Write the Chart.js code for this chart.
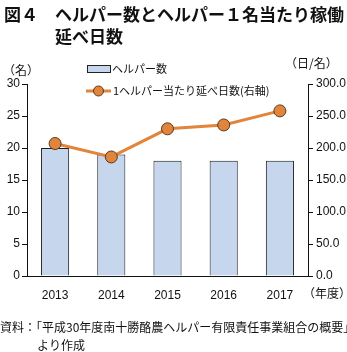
<!DOCTYPE html>
<html>
<head>
<meta charset="utf-8">
<script src="https://cdn.jsdelivr.net/npm/chart.js@4"></script>
<style>
  html, body { margin: 0; padding: 0; background: #fff; }
  #wrap { width: 347px; height: 352px; }
</style>
</head>
<body>
<div id="wrap"><canvas id="c" width="347" height="352"></canvas></div>
<script>
const years = ['2013', '2014', '2015', '2016', '2017'];
const helpers = [20, 19, 18, 18, 18];
const daysPerHelper = [207, 186, 230, 236, 258];
const leftTicks = [0, 5, 10, 15, 20, 25, 30];
const rightTicks = [0, 50, 100, 150, 200, 250, 300];

const JP = '"Noto Sans CJK JP", sans-serif';
const NUM = '"Liberation Sans", Arial, "Noto Sans CJK JP", sans-serif';
const barFill = '#c6d6ec';
const lineCol = '#e1843c';

// texts and legend drawn around the plot
const extras = {
    id: 'extras',
    afterDraw(chart) {
        const c = chart.ctx;
        c.save();
        c.fillStyle = '#111';
        c.textBaseline = 'middle';
        c.font = 'bold 17px ' + JP;
        c.fillText('図４', 4, 15);
        c.fillText('ヘルパー数とヘルパー１名当たり稼働', 55, 15);
        c.fillText('延べ日数', 55, 37);

        c.font = '12px ' + JP;
        c.fillText('（名）', 3, 70);
        c.fillText('（日/名）', 285, 63);

        // legend
        c.font = '11px ' + JP;
        c.fillStyle = barFill;
        c.fillRect(87, 65, 23, 7);
        c.strokeStyle = '#222';
        c.lineWidth = 1;
        c.strokeRect(87.5, 65.5, 23, 7);
        c.fillStyle = '#111';
        c.fillText('ヘルパー数', 112, 69);

        c.strokeStyle = lineCol;
        c.lineWidth = 3;
        c.beginPath();
        c.moveTo(86, 91);
        c.lineTo(111, 91);
        c.stroke();
        c.beginPath();
        c.arc(98.5, 91, 5, 0, Math.PI * 2);
        c.fillStyle = lineCol;
        c.fill();
        c.lineWidth = 1;
        c.strokeStyle = '#5a3a20';
        c.stroke();
        c.fillStyle = '#111';
        c.fillText('1ヘルパー当たり延べ日数(右軸)', 113, 91);

        c.font = '12px ' + JP;
        c.fillText('（年度）', 303, 293);

        c.fillText('資料：「平成30年度南十勝酪農ヘルパー有限責任事業組合の概要」', 0, 327);
        c.fillText('より作成', 37, 345);
        c.restore();
    }
};

new Chart(document.getElementById('c'), {
    data: {
        labels: years,
        datasets: [{
            type: 'line',
            label: '1ヘルパー当たり延べ日数(右軸)',
            data: daysPerHelper,
            yAxisID: 'y2',
            borderColor: lineCol,
            backgroundColor: lineCol,
            borderWidth: 3,
            pointRadius: 6,
            pointBorderColor: '#5a3a20',
            pointBorderWidth: 1,
            pointBackgroundColor: lineCol,
            tension: 0,
            order: 0
        }, {
            type: 'bar',
            label: 'ヘルパー数',
            data: helpers,
            yAxisID: 'y',
            backgroundColor: barFill,
            borderColor: '#1a1a22',
            borderWidth: 1,
            barPercentage: 0.5,
            categoryPercentage: 1,
            order: 1
        }]
    },
    options: {
        responsive: false,
        animation: false,
        devicePixelRatio: 1,
        layout: { padding: { top: 84, left: 0, right: 0, bottom: 0 } },
        plugins: {
            legend: { display: false },
            tooltip: { enabled: false }
        },
        scales: {
            x: {
                afterFit(s) { s.height = 76; },
                grid: { display: false },
                border: { display: true, color: '#111', width: 1 },
                ticks: { color: '#111', font: { family: NUM, size: 12 }, padding: 4 }
            },
            y: {
                position: 'left',
                min: 0, max: 30,
                afterFit(s) { s.width = 27; },
                afterBuildTicks(s) { s.ticks = leftTicks.map(v => ({ value: v })); },
                grid: { drawOnChartArea: false, drawTicks: true, tickLength: 5, color: '#111' },
                border: { display: true, color: '#111', width: 1 },
                ticks: { color: '#111', font: { family: NUM, size: 12 }, padding: 2 }
            },
            y2: {
                position: 'right',
                min: 0, max: 300,
                afterFit(s) { s.width = 39; },
                afterBuildTicks(s) { s.ticks = rightTicks.map(v => ({ value: v })); },
                grid: { drawOnChartArea: false, drawTicks: true, tickLength: 5, color: '#111' },
                border: { display: true, color: '#111', width: 1 },
                ticks: {
                    color: '#111', font: { family: NUM, size: 12 }, padding: 3,
                    callback: v => v.toFixed(1)
                }
            }
        }
    },
    plugins: [extras]
});
</script>
</body>
</html>
